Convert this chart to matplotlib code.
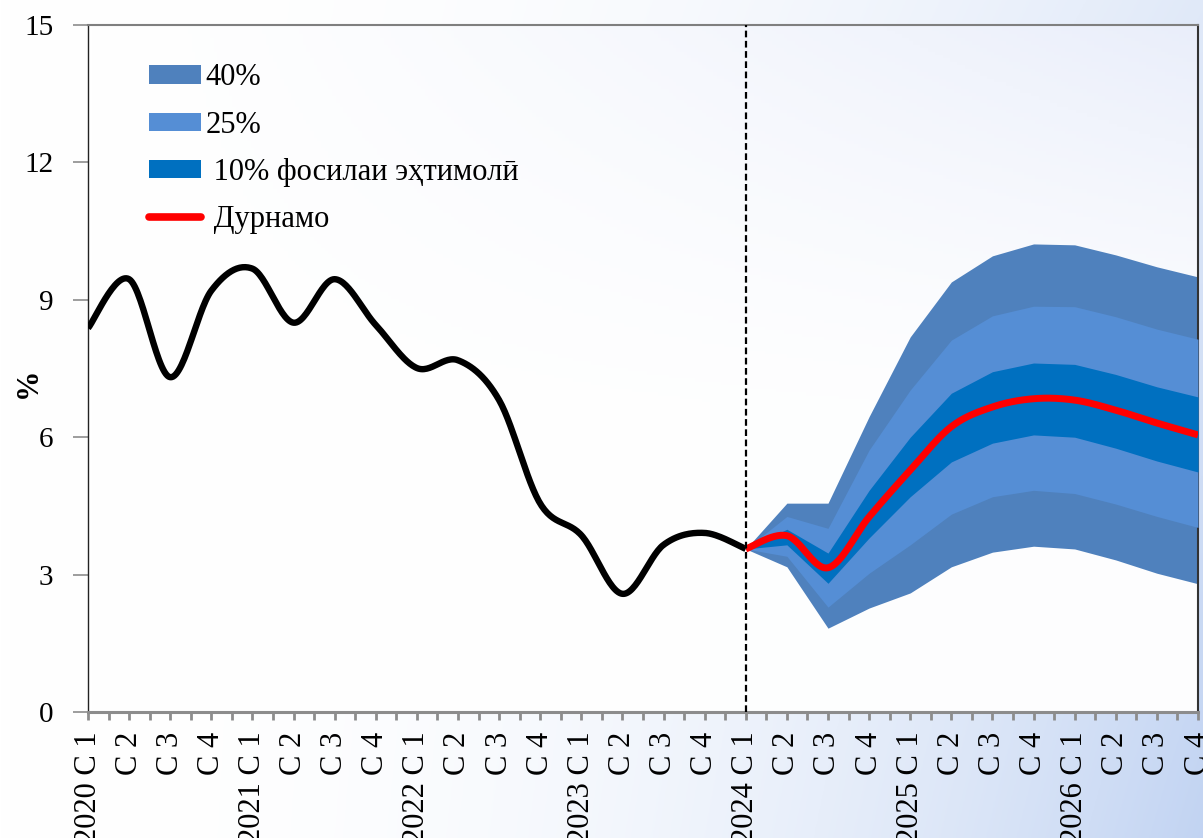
import numpy as np
import matplotlib
matplotlib.use("Agg")
import matplotlib.pyplot as plt
from matplotlib.patches import Patch
from matplotlib.lines import Line2D

plt.rcParams['font.family'] = ['Liberation Serif', 'DejaVu Serif']

# ---------------- data ----------------
years = [2020, 2021, 2022, 2023, 2024, 2025, 2026]
quarters = ["C 1", "C 2", "C 3", "C 4"]
tick_labels = [f"{y} {q}" if q == "C 1" else q for y in years for q in quarters]

history = [8.38, 9.45, 7.31, 9.2, 9.68, 8.5, 9.45, 8.45, 7.51, 7.68, 6.81, 4.55,
           3.86, 2.58, 3.65, 3.91, 3.56]  # 2020 C1 .. 2024 C1

forecast = [3.56, 3.85, 3.15, 4.26, 5.28, 6.23, 6.66, 6.84, 6.81, 6.59, 6.31, 6.05]  # 2024 C1 .. 2026 C4

band40_hi = [3.56, 4.56, 4.56, 6.45, 8.19, 9.39, 9.96, 10.22, 10.2, 9.98, 9.72, 9.5]
band40_lo = [3.56, 3.17, 1.83, 2.27, 2.60, 3.17, 3.49, 3.62, 3.56, 3.32, 3.03, 2.80]
band25_hi = [3.56, 4.27, 4.01, 5.72, 7.03, 8.12, 8.65, 8.86, 8.85, 8.63, 8.36, 8.14]
band25_lo = [3.56, 3.40, 2.29, 3.03, 3.65, 4.32, 4.70, 4.84, 4.77, 4.54, 4.27, 4.03]
band10_hi = [3.56, 3.99, 3.47, 4.84, 6.00, 6.96, 7.43, 7.62, 7.59, 7.37, 7.10, 6.88]
band10_lo = [3.56, 3.65, 2.81, 3.80, 4.70, 5.46, 5.87, 6.05, 6.00, 5.76, 5.48, 5.24]

legend_labels = ["40%", "25%", " 10% фосилаи эҳтимолӣ", " Дурнамо"]
y_label = "%"


def smooth(xs, ys, n=30):
    """Excel-style smoothed line (Catmull-Rom / cubic Bezier)."""
    xs = np.asarray(xs, float)
    ys = np.asarray(ys, float)
    P = np.column_stack([xs, ys])
    out = []
    for i in range(len(P) - 1):
        p0 = P[i - 1] if i > 0 else P[i]
        p1 = P[i]
        p2 = P[i + 1]
        p3 = P[i + 2] if i + 2 < len(P) else P[i + 1]
        c1 = p1 + (p2 - p0) / 6.0
        c2 = p2 - (p3 - p1) / 6.0
        t = np.linspace(0, 1, n)[:, None]
        seg = ((1 - t) ** 3) * p1 + 3 * ((1 - t) ** 2) * t * c1 + 3 * (1 - t) * t ** 2 * c2 + t ** 3 * p2
        out.append(seg if i == 0 else seg[1:])
    out = np.vstack(out)
    return out[:, 0], out[:, 1]


W, H = 1203, 838
fig = plt.figure(figsize=(W / 100, H / 100), dpi=100)

# ---------------- figure background gradient ----------------
bg = fig.add_axes([0, 0, 1, 1], zorder=-10)
gx = np.linspace(0, 1, 400)[None, :]
gy = np.linspace(0, 1, 300)[:, None]  # 0 top -> 1 bottom
t = np.clip(gx, 0, 1) ** 2.4 * (0.5 + 0.5 * gy)
white = np.array([1.0, 1.0, 1.0])
blue = np.array([0.76, 0.83, 0.95])
img = white[None, None, :] * (1 - t[..., None]) + blue[None, None, :] * t[..., None]
bg.imshow(img, aspect='auto', extent=[0, 1, 0, 1], origin='upper')
bg.set_axis_off()

# ---------------- main axes ----------------
left, right = 88 / W, 1198 / W
bottom, top = (H - 712) / H, (H - 25) / H
ax = fig.add_axes([left, bottom, right - left, top - bottom])
ax.set_facecolor('none')

# axes interior gradient (white at bottom, faint lavender top-right)
ix = np.linspace(0, 1, 300)[None, :]
iy = np.linspace(1, 0, 200)[:, None]  # 1 top -> 0 bottom
ti = 0.55 * np.clip(ix, 0, 1) ** 1.3 * np.clip((iy - 0.45) / 0.55, 0, 1) ** 1.2 + 0.05 * np.clip(ix, 0, 1)
lav = np.array([0.86, 0.89, 0.97])
img2 = white[None, None, :] * (1 - ti[..., None]) + lav[None, None, :] * ti[..., None]
n = len(tick_labels)
ax.imshow(img2, aspect='auto', extent=[0, n - 1, 0, 15], origin='upper', zorder=0)

xh = np.arange(len(history))
xf = np.arange(len(history) - 1, len(history) - 1 + len(forecast))

c40, c25, c10 = '#4f81bd', '#558ed5', '#0070c0'
ax.fill_between(xf, band40_lo, band40_hi, color=c40, lw=0, zorder=2)
ax.fill_between(xf, band25_lo, band25_hi, color=c25, lw=0, zorder=3)
ax.fill_between(xf, band10_lo, band10_hi, color=c10, lw=0, zorder=4)

sx, sy = smooth(xh, history)
ax.plot(sx, sy, color='black', lw=4.6, solid_capstyle='butt', zorder=5)
fx, fy = smooth(xf, forecast)
ax.plot(fx, fy, color='#ff0000', lw=5.0, solid_capstyle='butt', zorder=6)

ax.axvline(len(history) - 1, color='black', lw=1.6, ls=(0, (3, 1.6)), zorder=7)

ax.set_xlim(0, n - 1)
ax.set_ylim(0, 15)
ax.set_yticks(np.arange(0, 16, 3))
ax.set_xticks(np.arange(n))
ax.set_xticklabels(tick_labels, rotation=90, va='top', ha='center', fontsize=22)
ax.set_xticks(np.arange(n - 1) + 0.5, minor=True)
ax.tick_params(axis='x', which='both', length=6, width=2, color='#8c8c8c', pad=8, direction='out')
ax.tick_params(axis='y', length=11, width=1.2, color='#8c8c8c', labelsize=21, pad=14, direction='out')

ax.spines['bottom'].set_color('#8c8c8c')
ax.spines['bottom'].set_linewidth(2.2)
ax.spines['left'].set_color('#222222')
ax.spines['left'].set_linewidth(1.0)
ax.spines['top'].set_color('#7f7f7f')
ax.spines['top'].set_linewidth(1.5)
ax.spines['right'].set_color('#333333')
ax.spines['right'].set_linewidth(1.5)

fig.text(28 / W, 1 - 383 / H, y_label, rotation=90, fontsize=22, fontweight='bold',
         ha='center', va='center')

handles = [Patch(facecolor=c40, edgecolor='none'),
           Patch(facecolor=c25, edgecolor='none'),
           Patch(facecolor=c10, edgecolor='none'),
           Line2D([0], [0], color='#ff0000', lw=5.5, solid_capstyle='round')]
leg = ax.legend(handles, legend_labels, loc='upper left', bbox_to_anchor=(0.044, 0.962),
                frameon=False, fontsize=22, handlelength=1.7, handleheight=0.55,
                handletextpad=0.15, labelspacing=0.6, borderaxespad=0)
leg.set_zorder(10)

fig.savefig('out.png', dpi=100)
